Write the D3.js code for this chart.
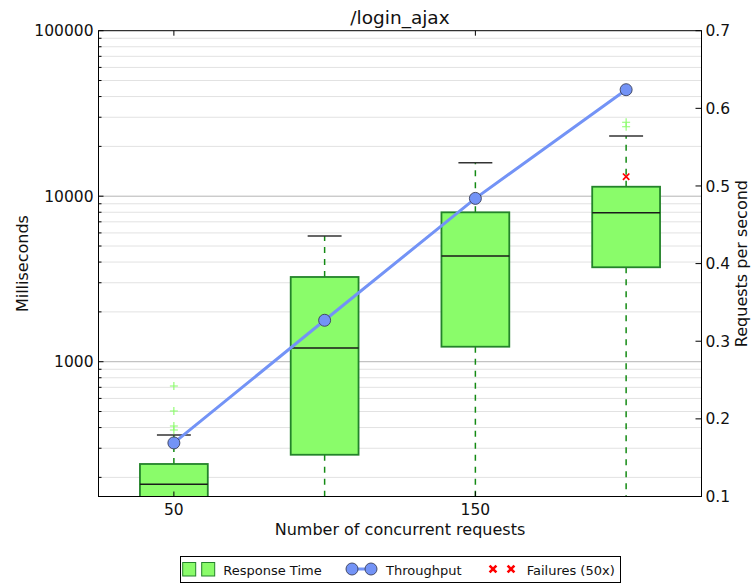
<!DOCTYPE html>
<html>
<head>
<meta charset="utf-8">
<script src="https://cdn.jsdelivr.net/npm/d3@7"></script>
<style>
  html, body { margin: 0; padding: 0; background: #fff; }
  svg { display: block; font-family: "DejaVu Sans", sans-serif; }
</style>
</head>
<body>
<svg id="chart" width="756" height="583"></svg>
<script>
// Response time distribution per concurrency level (ms)
const concurrency = [50, 100, 150, 200];
const whiskerLow  = [90, 110, 120, 130];
const q1          = [140, 274, 1232, 3720];
const median      = [182, 1210, 4352, 7948];
const q3          = [241, 3250, 7992, 11410];
const whiskerHigh = [361, 5748, 15940, 23110];
// Outliers beyond the upper whisker: [concurrency, ms]
const outliers = [[50, 713], [50, 504], [50, 409], [50, 387], [200, 27960], [200, 26300]];
// Failed requests (50x): [concurrency, ms]
const failures = [[200, 13120]];
// Throughput (requests per second)
const throughput = [0.169, 0.327, 0.484, 0.624];

const msTicks = [1000, 10000, 100000];
const rpsTicks = [0.1, 0.2, 0.3, 0.4, 0.5, 0.6, 0.7];
const xTicks = [50, 150];
const legendLabels = ["Response Time", "Throughput", "Failures (50x)"];

const L = 98.5, R = 701.5, T = 30.7, B = 496.5;
const svg = d3.select("#chart");

const x = d3.scaleLinear().domain([25, 225]).range([L, R]);
const y = d3.scaleLog().domain([153.3, 100000]).range([B, T]);
const y2 = d3.scaleLinear().domain([0.1, 0.7]).range([B, T]);

const boxFill = "#8afc6a", boxStroke = "#23832a", whiskerColor = "#138a13";
const tpColor = "#7393f6";

svg.append("defs").append("clipPath").attr("id", "plot")
  .append("rect").attr("x", L).attr("y", T).attr("width", R - L).attr("height", B - T);

// Log grid: minor then major
const minor = [];
[100, 1000, 10000].forEach(d => { for (let k = 2; k <= 9; k++) minor.push(k * d); });
const minorIn = minor.filter(v => v > y.domain()[0] && v < y.domain()[1]);
const grid = svg.append("g");
grid.selectAll("line.minor").data(minorIn).join("line")
  .attr("x1", L).attr("x2", R).attr("y1", d => y(d)).attr("y2", d => y(d))
  .attr("stroke", "#e2e2e2").attr("stroke-width", 1);
grid.selectAll("line.major").data(msTicks.filter(v => v < 100000)).join("line")
  .attr("x1", L).attr("x2", R).attr("y1", d => y(d)).attr("y2", d => y(d))
  .attr("stroke", "#b4b4b4").attr("stroke-width", 1);

const plot = svg.append("g").attr("clip-path", "url(#plot)");
const boxW = 22.5;
const cw = boxW / 2;

concurrency.forEach((c, i) => {
  const g = plot.append("g");
  // whiskers
  g.append("line").attr("x1", x(c)).attr("x2", x(c))
    .attr("y1", y(q3[i])).attr("y2", y(whiskerHigh[i]))
    .attr("stroke", whiskerColor).attr("stroke-width", 1.5).attr("stroke-dasharray", "6,6");
  g.append("line").attr("x1", x(c)).attr("x2", x(c))
    .attr("y1", y(q1[i])).attr("y2", y(whiskerLow[i]))
    .attr("stroke", whiskerColor).attr("stroke-width", 1.5).attr("stroke-dasharray", "6,6");
  // caps
  [whiskerHigh[i], whiskerLow[i]].forEach(v => {
    g.append("line").attr("x1", x(c - cw / 2)).attr("x2", x(c + cw / 2))
      .attr("y1", y(v)).attr("y2", y(v))
      .attr("stroke", "#333").attr("stroke-width", 1.6);
  });
  // box
  g.append("rect").attr("x", x(c - boxW / 2)).attr("width", x(c + boxW / 2) - x(c - boxW / 2))
    .attr("y", y(q3[i])).attr("height", y(q1[i]) - y(q3[i]))
    .attr("fill", boxFill).attr("stroke", boxStroke).attr("stroke-width", 1.8);
  // median
  g.append("line").attr("x1", x(c - boxW / 2)).attr("x2", x(c + boxW / 2))
    .attr("y1", y(median[i])).attr("y2", y(median[i]))
    .attr("stroke", "#1a1a1a").attr("stroke-width", 1.5);
});

// outliers as '+'
const ps = 4;
plot.selectAll("path.outlier").data(outliers).join("path")
  .attr("d", d => `M${x(d[0]) - ps},${y(d[1])}h${2 * ps}M${x(d[0])},${y(d[1]) - ps}v${2 * ps}`)
  .attr("stroke", "#8afc6a").attr("stroke-width", 1.1).attr("fill", "none");

// throughput line and markers
const line = d3.line().x((d, i) => x(concurrency[i])).y(d => y2(d));
plot.append("path").datum(throughput).attr("d", line)
  .attr("fill", "none").attr("stroke", tpColor).attr("stroke-width", 3);
plot.selectAll("circle.tp").data(throughput).join("circle")
  .attr("cx", (d, i) => x(concurrency[i])).attr("cy", d => y2(d)).attr("r", 6)
  .attr("fill", tpColor).attr("stroke", "#3a3f5a").attr("stroke-width", 0.9);

// failures as red 'x'
const xs = 3.2;
plot.selectAll("path.fail").data(failures).join("path")
  .attr("d", d => {
    const cx = x(d[0]), cy = y(d[1]);
    return `M${cx - xs},${cy - xs}L${cx + xs},${cy + xs}M${cx - xs},${cy + xs}L${cx + xs},${cy - xs}`;
  })
  .attr("stroke", "#ff0000").attr("stroke-width", 1.7).attr("fill", "none");

// Axes frame
svg.append("rect").attr("x", L).attr("y", T).attr("width", R - L).attr("height", B - T)
  .attr("fill", "none").attr("stroke", "#000").attr("stroke-width", 1);

// Left axis ticks (inside)
const axes = svg.append("g").attr("stroke", "#000").attr("stroke-width", 1);
minorIn.forEach(v => {
  axes.append("line").attr("x1", L).attr("x2", L + 3).attr("y1", y(v)).attr("y2", y(v));
});
msTicks.forEach(v => {
  axes.append("line").attr("x1", L).attr("x2", L + 5).attr("y1", y(v)).attr("y2", y(v));
});
// Right axis ticks (inside)
rpsTicks.forEach(v => {
  axes.append("line").attr("x1", R).attr("x2", R - 6).attr("y1", y2(v)).attr("y2", y2(v));
});
// X ticks top and bottom (inside)
xTicks.forEach(v => {
  axes.append("line").attr("x1", x(v)).attr("x2", x(v)).attr("y1", T).attr("y2", T + 5);
  axes.append("line").attr("x1", x(v)).attr("x2", x(v)).attr("y1", B).attr("y2", B - 5);
});

// Tick labels
const lbl = svg.append("g").attr("fill", "#111").attr("font-size", 15.5);
msTicks.forEach(v => {
  lbl.append("text").attr("x", L - 5).attr("y", y(v)).attr("dy", "0.36em")
    .attr("text-anchor", "end").text(d3.format("d")(v));
});
rpsTicks.forEach(v => {
  lbl.append("text").attr("x", R + 4).attr("y", y2(v)).attr("dy", "0.36em")
    .attr("text-anchor", "start").text(d3.format(".1f")(v));
});
xTicks.forEach(v => {
  lbl.append("text").attr("x", x(v)).attr("y", 515).attr("text-anchor", "middle").text(v);
});

// Axis labels and title
svg.append("text").attr("x", (L + R) / 2).attr("y", 24).attr("text-anchor", "middle")
  .attr("font-size", 18.5).attr("fill", "#111").text("/login_ajax");
svg.append("text").attr("x", (L + R) / 2).attr("y", 535).attr("text-anchor", "middle")
  .attr("font-size", 16).attr("fill", "#111").text("Number of concurrent requests");
svg.append("text").attr("transform", `translate(28,${(T + B) / 2}) rotate(-90)`)
  .attr("text-anchor", "middle").attr("font-size", 16).attr("fill", "#111").text("Milliseconds");
svg.append("text").attr("transform", `translate(746.5,${(T + B) / 2}) rotate(-90)`)
  .attr("text-anchor", "middle").attr("font-size", 16).attr("fill", "#111").text("Requests per second");

// Legend
const lg = svg.append("g");
lg.append("rect").attr("x", 180.5).attr("y", 556.5).attr("width", 440).attr("height", 26)
  .attr("fill", "#fff").attr("stroke", "#000").attr("stroke-width", 1);
[182.7, 201.7].forEach(lx => {
  lg.append("rect").attr("x", lx).attr("y", 562.5).attr("width", 13).attr("height", 13.5)
    .attr("fill", boxFill).attr("stroke", boxStroke).attr("stroke-width", 1);
});
lg.append("line").attr("x1", 352).attr("x2", 371).attr("y1", 569).attr("y2", 569)
  .attr("stroke", tpColor).attr("stroke-width", 3);
[352, 371].forEach(cx => {
  lg.append("circle").attr("cx", cx).attr("cy", 569).attr("r", 6)
    .attr("fill", tpColor).attr("stroke", "#3a3f5a").attr("stroke-width", 0.9);
});
[493, 511].forEach(cx => {
  lg.append("path")
    .attr("d", `M${cx - 3.4},${569 - 3.4}L${cx + 3.4},${569 + 3.4}M${cx - 3.4},${569 + 3.4}L${cx + 3.4},${569 - 3.4}`)
    .attr("stroke", "#ff0000").attr("stroke-width", 2.6).attr("fill", "none");
});
const legendX = [223.3, 386, 526.7];
legendLabels.forEach((t, i) => {
  lg.append("text").attr("x", legendX[i]).attr("y", 574.5).attr("font-size", 13)
    .attr("fill", "#111").text(t);
});
</script>
</body>
</html>
